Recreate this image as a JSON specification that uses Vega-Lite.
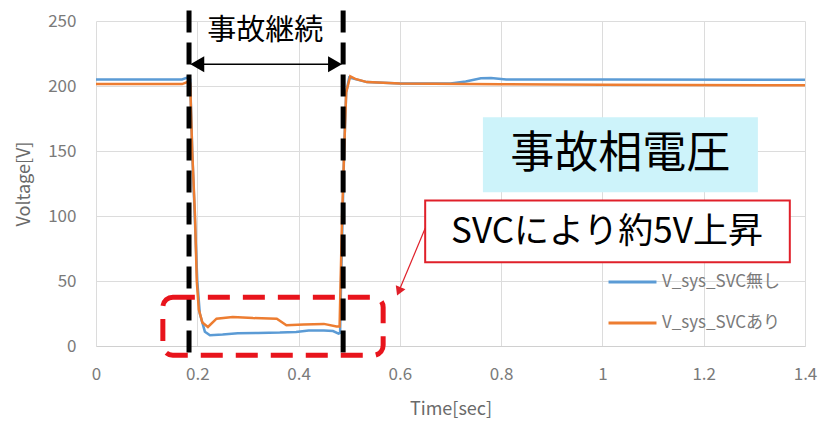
{
  "$schema": "https://vega.github.io/schema/vega-lite/v6.json",
  "width": 709,
  "height": 325,
  "autosize": {"type": "none"},
  "padding": {"left": 96, "top": 21, "right": 13, "bottom": 75},
  "background": "white",
  "config": {
    "view": {"stroke": null},
    "font": "Noto Sans CJK JP",
    "axis": {
      "labelFont": "Noto Sans CJK JP",
      "titleFont": "Noto Sans CJK JP",
      "labelColor": "#7a7a7a",
      "titleColor": "#6a6a6a",
      "labelFontSize": 17,
      "titleFontSize": 18,
      "titleFontWeight": "normal",
      "gridColor": "#dcdcdc",
      "gridWidth": 1,
      "ticks": false,
      "domain": false,
      "labelFlush": false
    }
  },
  "layer": [
    {
      "data": {
        "values": [
          {"t": 0, "v": 205, "s": "V_sys_SVC無し"},
          {"t": 0.17, "v": 205, "s": "V_sys_SVC無し"},
          {"t": 0.18, "v": 206.5, "s": "V_sys_SVC無し"},
          {"t": 0.186, "v": 205, "s": "V_sys_SVC無し"},
          {"t": 0.19, "v": 150, "s": "V_sys_SVC無し"},
          {"t": 0.195, "v": 100, "s": "V_sys_SVC無し"},
          {"t": 0.2, "v": 50, "s": "V_sys_SVC無し"},
          {"t": 0.205, "v": 25, "s": "V_sys_SVC無し"},
          {"t": 0.215, "v": 11, "s": "V_sys_SVC無し"},
          {"t": 0.225, "v": 8.2, "s": "V_sys_SVC無し"},
          {"t": 0.25, "v": 8.8, "s": "V_sys_SVC無し"},
          {"t": 0.28, "v": 9.8, "s": "V_sys_SVC無し"},
          {"t": 0.32, "v": 10, "s": "V_sys_SVC無し"},
          {"t": 0.363, "v": 10.3, "s": "V_sys_SVC無し"},
          {"t": 0.395, "v": 10.8, "s": "V_sys_SVC無し"},
          {"t": 0.42, "v": 12, "s": "V_sys_SVC無し"},
          {"t": 0.45, "v": 12, "s": "V_sys_SVC無し"},
          {"t": 0.468, "v": 11.5, "s": "V_sys_SVC無し"},
          {"t": 0.479, "v": 9.5, "s": "V_sys_SVC無し"},
          {"t": 0.482, "v": 10, "s": "V_sys_SVC無し"},
          {"t": 0.484, "v": 50, "s": "V_sys_SVC無し"},
          {"t": 0.487, "v": 100, "s": "V_sys_SVC無し"},
          {"t": 0.49, "v": 150, "s": "V_sys_SVC無し"},
          {"t": 0.494, "v": 195, "s": "V_sys_SVC無し"},
          {"t": 0.5, "v": 206.5, "s": "V_sys_SVC無し"},
          {"t": 0.51, "v": 205.5, "s": "V_sys_SVC無し"},
          {"t": 0.535, "v": 203, "s": "V_sys_SVC無し"},
          {"t": 0.6, "v": 202, "s": "V_sys_SVC無し"},
          {"t": 0.7, "v": 202, "s": "V_sys_SVC無し"},
          {"t": 0.73, "v": 203.5, "s": "V_sys_SVC無し"},
          {"t": 0.76, "v": 206, "s": "V_sys_SVC無し"},
          {"t": 0.78, "v": 206.2, "s": "V_sys_SVC無し"},
          {"t": 0.81, "v": 205, "s": "V_sys_SVC無し"},
          {"t": 1.0, "v": 205, "s": "V_sys_SVC無し"},
          {"t": 1.4, "v": 204.8, "s": "V_sys_SVC無し"},
          {"t": 0, "v": 201.5, "s": "V_sys_SVCあり"},
          {"t": 0.17, "v": 201.5, "s": "V_sys_SVCあり"},
          {"t": 0.18, "v": 203, "s": "V_sys_SVCあり"},
          {"t": 0.186, "v": 202, "s": "V_sys_SVCあり"},
          {"t": 0.19, "v": 150, "s": "V_sys_SVCあり"},
          {"t": 0.1955, "v": 100, "s": "V_sys_SVCあり"},
          {"t": 0.199, "v": 50, "s": "V_sys_SVCあり"},
          {"t": 0.203, "v": 28, "s": "V_sys_SVCあり"},
          {"t": 0.21, "v": 18, "s": "V_sys_SVCあり"},
          {"t": 0.221, "v": 14.6, "s": "V_sys_SVCあり"},
          {"t": 0.238, "v": 21, "s": "V_sys_SVCあり"},
          {"t": 0.27, "v": 22.3, "s": "V_sys_SVCあり"},
          {"t": 0.31, "v": 21.5, "s": "V_sys_SVCあり"},
          {"t": 0.357, "v": 21, "s": "V_sys_SVCあり"},
          {"t": 0.376, "v": 16, "s": "V_sys_SVCあり"},
          {"t": 0.41, "v": 16.5, "s": "V_sys_SVCあり"},
          {"t": 0.45, "v": 17, "s": "V_sys_SVCあり"},
          {"t": 0.475, "v": 15, "s": "V_sys_SVCあり"},
          {"t": 0.481, "v": 15, "s": "V_sys_SVCあり"},
          {"t": 0.483, "v": 50, "s": "V_sys_SVCあり"},
          {"t": 0.486, "v": 100, "s": "V_sys_SVCあり"},
          {"t": 0.49, "v": 150, "s": "V_sys_SVCあり"},
          {"t": 0.494, "v": 195, "s": "V_sys_SVCあり"},
          {"t": 0.502, "v": 207.5, "s": "V_sys_SVCあり"},
          {"t": 0.512, "v": 205.5, "s": "V_sys_SVCあり"},
          {"t": 0.535, "v": 203, "s": "V_sys_SVCあり"},
          {"t": 0.6, "v": 202, "s": "V_sys_SVCあり"},
          {"t": 0.8, "v": 201.3, "s": "V_sys_SVCあり"},
          {"t": 1.0, "v": 201, "s": "V_sys_SVCあり"},
          {"t": 1.4, "v": 200.5, "s": "V_sys_SVCあり"}
        ]
      },
      "mark": {"type": "line", "strokeWidth": 2.5},
      "encoding": {
        "x": {
          "field": "t", "type": "quantitative", "title": "Time[sec]",
          "scale": {"domain": [0, 1.4], "nice": false, "zero": false},
          "axis": {"values": [0, 0.2, 0.4, 0.6, 0.8, 1, 1.2, 1.4], "format": "~g", "labelPadding": 20, "titlePadding": 18, "grid": true, "domain": true, "domainColor": "#d0d0d0"}
        },
        "y": {
          "field": "v", "type": "quantitative", "title": "Voltage[V]",
          "scale": {"domain": [0, 250], "nice": false},
          "axis": {"values": [0, 50, 100, 150, 200, 250], "labelPadding": 20, "titlePadding": 14, "grid": true}
        },
        "color": {
          "field": "s", "type": "nominal",
          "scale": {"domain": ["V_sys_SVC無し", "V_sys_SVCあり"], "range": ["#5B9BD5", "#ED7D31"]},
          "legend": {
            "title": null, "orient": "none", "legendX": 511, "legendY": 253,
            "symbolType": "stroke", "symbolSize": 2300, "symbolStrokeWidth": 3,
            "labelFontSize": 17, "labelColor": "#7a7a7a", "labelFont": "Noto Sans CJK JP",
            "labelOffset": 4, "clipHeight": 16, "rowPadding": 24
          }
        }
      }
    },
    {
      "data": {"values": [{"t": 0.1837, "v": 258, "v2": -8.7}, {"t": 0.488, "v": 258, "v2": -8.7}]},
      "mark": {"type": "rule", "color": "black", "strokeWidth": 5, "strokeDash": [22, 10]},
      "encoding": {
        "x": {"field": "t", "type": "quantitative", "title": "Time[sec]"},
        "y": {"field": "v", "type": "quantitative", "title": "Voltage[V]"},
        "y2": {"field": "v2", "title": "Voltage[V]"}
      }
    },
    {
      "data": {"values": [{"t": 0.19, "t2": 0.482, "v": 216.7}]},
      "mark": {"type": "rule", "color": "black", "strokeWidth": 1.5},
      "encoding": {
        "x": {"field": "t", "type": "quantitative", "title": "Time[sec]"},
        "x2": {"field": "t2", "title": "Time[sec]"},
        "y": {"field": "v", "type": "quantitative", "title": "Voltage[V]"}
      }
    },
    {
      "data": {"values": [{"t": 0.2, "v": 216.7, "sh": "triangle-left"}, {"t": 0.472, "v": 216.7, "sh": "triangle-right"}]},
      "mark": {"type": "point", "filled": true, "color": "black", "size": 260, "opacity": 1},
      "encoding": {
        "x": {"field": "t", "type": "quantitative", "title": "Time[sec]"},
        "y": {"field": "v", "type": "quantitative", "title": "Voltage[V]"},
        "shape": {"field": "sh", "type": "nominal", "scale": null, "legend": null}
      }
    },
    {
      "data": {"values": [{"t": 0.334, "v": 242.5, "label": "事故継続"}]},
      "mark": {"type": "text", "fontSize": 29, "color": "black", "font": "Noto Sans CJK JP", "baseline": "middle", "align": "center"},
      "encoding": {
        "x": {"field": "t", "type": "quantitative", "title": "Time[sec]"},
        "y": {"field": "v", "type": "quantitative", "title": "Voltage[V]"},
        "text": {"field": "label"}
      }
    },
    {
      "data": {"values": [{"t": 0.764, "t2": 1.307, "v": 175.9, "v2": 118.2}]},
      "mark": {"type": "rect", "color": "#CDF3FA", "opacity": 1},
      "encoding": {
        "x": {"field": "t", "type": "quantitative", "title": "Time[sec]"},
        "x2": {"field": "t2", "title": "Time[sec]"},
        "y": {"field": "v", "type": "quantitative", "title": "Voltage[V]"},
        "y2": {"field": "v2", "title": "Voltage[V]"}
      }
    },
    {
      "data": {"values": [{"t": 1.035, "v": 146.7, "label": "事故相電圧"}]},
      "mark": {"type": "text", "fontSize": 44, "color": "black", "font": "Noto Sans CJK JP", "baseline": "middle", "align": "center"},
      "encoding": {
        "x": {"field": "t", "type": "quantitative", "title": "Time[sec]"},
        "y": {"field": "v", "type": "quantitative", "title": "Voltage[V]"},
        "text": {"field": "label"}
      }
    },
    {
      "data": {"values": [{"t": 0.65, "t2": 1.37, "v": 112, "v2": 64.4}]},
      "mark": {"type": "rect", "fill": "white", "stroke": "#E0202A", "strokeWidth": 2, "opacity": 1},
      "encoding": {
        "x": {"field": "t", "type": "quantitative", "title": "Time[sec]"},
        "x2": {"field": "t2", "title": "Time[sec]"},
        "y": {"field": "v", "type": "quantitative", "title": "Voltage[V]"},
        "y2": {"field": "v2", "title": "Voltage[V]"}
      }
    },
    {
      "data": {"values": [{"t": 1.009, "v": 87.5, "label": "SVCにより約5V上昇"}]},
      "mark": {"type": "text", "fontSize": 35, "color": "black", "font": "Noto Sans CJK JP", "baseline": "middle", "align": "center"},
      "encoding": {
        "x": {"field": "t", "type": "quantitative", "title": "Time[sec]"},
        "y": {"field": "v", "type": "quantitative", "title": "Voltage[V]"},
        "text": {"field": "label"}
      }
    },
    {
      "data": {"values": [{"t": 0.65, "v": 90.5, "t2": 0.6, "v2": 44}]},
      "mark": {"type": "rule", "color": "#E0202A", "strokeWidth": 1.2},
      "encoding": {
        "x": {"field": "t", "type": "quantitative", "title": "Time[sec]"},
        "x2": {"field": "t2", "title": "Time[sec]"},
        "y": {"field": "v", "type": "quantitative", "title": "Voltage[V]"},
        "y2": {"field": "v2", "title": "Voltage[V]"}
      }
    },
    {
      "data": {"values": [{"t": 0.598, "v": 42}]},
      "mark": {"type": "point", "shape": "triangle-down", "filled": true, "color": "#E0202A", "size": 110, "angle": 23, "opacity": 1},
      "encoding": {
        "x": {"field": "t", "type": "quantitative", "title": "Time[sec]"},
        "y": {"field": "v", "type": "quantitative", "title": "Voltage[V]"}
      }
    },
    {
      "data": {"values": [{"t": 0.132, "t2": 0.567, "v": 37.5, "v2": -7.2}]},
      "mark": {"type": "rect", "fill": null, "fillOpacity": 0, "stroke": "#E8141C", "strokeWidth": 5, "strokeDash": [22, 13], "cornerRadius": 10},
      "encoding": {
        "x": {"field": "t", "type": "quantitative", "title": "Time[sec]"},
        "x2": {"field": "t2", "title": "Time[sec]"},
        "y": {"field": "v", "type": "quantitative", "title": "Voltage[V]"},
        "y2": {"field": "v2", "title": "Voltage[V]"}
      }
    }
  ]
}
